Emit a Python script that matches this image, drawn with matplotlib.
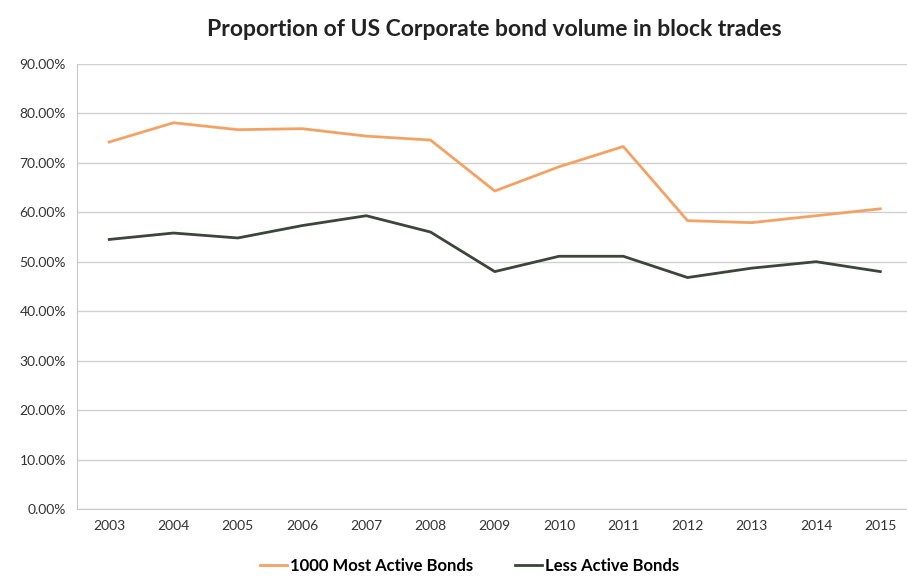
import matplotlib
matplotlib.use('Agg')
import matplotlib.pyplot as plt
from matplotlib.ticker import FuncFormatter

years = ['2003', '2004', '2005', '2006', '2007', '2008', '2009',
         '2010', '2011', '2012', '2013', '2014', '2015']
most_active = [74.2, 78.1, 76.7, 76.9, 75.4, 74.6, 64.3,
               69.2, 73.3, 58.3, 57.9, 59.3, 60.7]
less_active = [54.5, 55.8, 54.8, 57.3, 59.3, 56.0, 48.0,
               51.1, 51.1, 46.8, 48.7, 50.0, 48.0]

plt.rcParams['font.family'] = ['Lato', 'DejaVu Sans']

fig = plt.figure(figsize=(9.07, 5.81), dpi=100)
ax = fig.add_axes([0.085, 0.124, 0.921, 0.766])

x = range(len(years))
ax.plot(x, most_active, color='#F4A263', lw=2, label='1000 Most Active Bonds')
ax.plot(x, less_active, color='#3C4539', lw=2, label='Less Active Bonds')

ax.set_ylim(0, 90)
ax.set_yticks(range(0, 91, 10))
ax.yaxis.set_major_formatter(FuncFormatter(lambda v, p: '%.2f%%' % v))
ax.set_xlim(-0.5, len(years) - 0.5)
ax.set_xticks(list(x))
ax.set_xticklabels(years)
ax.grid(axis='y', color='#D0D0D0', lw=1)
ax.set_axisbelow(True)
for s in ['top', 'right']:
    ax.spines[s].set_visible(False)
for s in ['left', 'bottom']:
    ax.spines[s].set_color('#C8C8C8')
ax.tick_params(length=0, labelsize=10, colors='#333333', pad=8)

ax.set_title('Proportion of US Corporate bond volume in block trades',
             fontsize=16.5, fontweight='bold', color='#222222', pad=20)

ax.legend(loc='upper center', bbox_to_anchor=(0.47, -0.088), ncol=2,
          frameon=False, handlelength=1.6, handletextpad=0.2,
          columnspacing=2.5, borderaxespad=0.2,
          prop={'weight': 'bold', 'size': 12})

fig.savefig('out.png', dpi=100)
